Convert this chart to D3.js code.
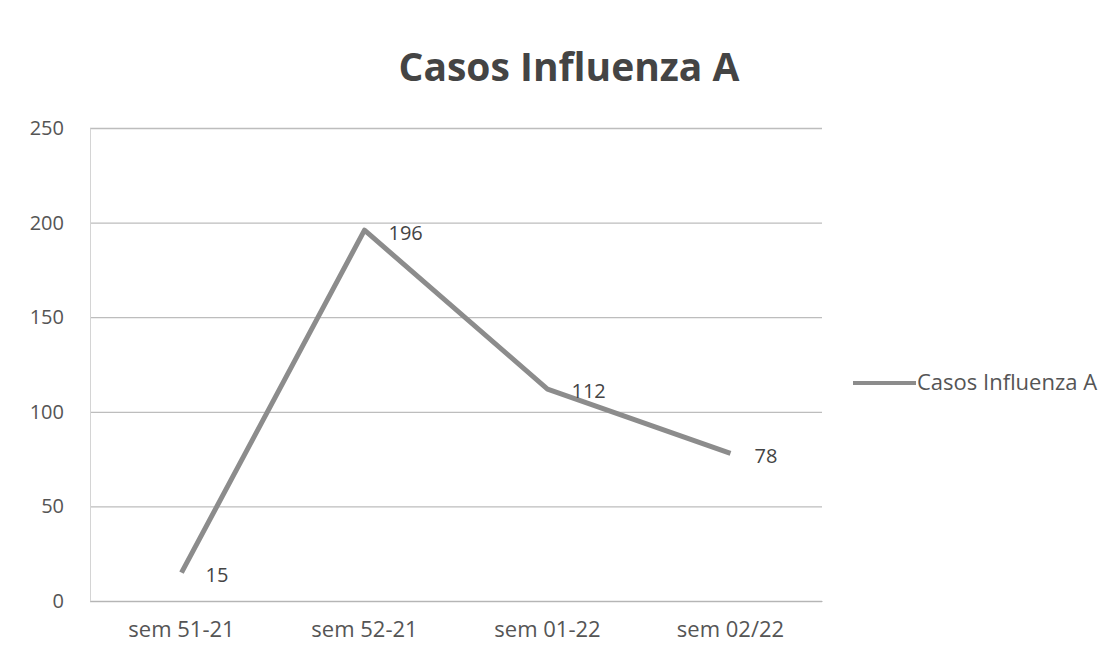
<!DOCTYPE html>
<html>
<head>
<meta charset="utf-8">
<script src="https://cdn.jsdelivr.net/npm/d3@7"></script>
<style>
  html, body { margin: 0; padding: 0; background: #fff; }
  svg { display: block; font-family: "Open Sans", "Noto Sans", sans-serif; }
</style>
</head>
<body>
<div id="chart"></div>
<script>
// ── Data ─────────────────────────────────────────────
const categories = ["sem 51-21", "sem 52-21", "sem 01-22", "sem 02/22"];
const casos = [15, 196, 112, 78];
const yTicks = [0, 50, 100, 150, 200, 250];
const seriesName = "Casos Influenza A";
const title = "Casos Influenza A";

const W = 1119, H = 658;
const margin = { top: 128, right: 297, bottom: 57, left: 90 };
const width = W - margin.left - margin.right;
const height = H - margin.top - margin.bottom;

const svg = d3.select("#chart").append("svg")
  .attr("width", W).attr("height", H);

svg.append("rect").attr("width", W).attr("height", H).attr("fill", "#fff");

// title
svg.append("text")
  .attr("x", 569).attr("y", 81)
  .attr("text-anchor", "middle")
  .attr("font-size", 39).attr("font-weight", "bold")
  .attr("fill", "#444")
  .text(title);

const g = svg.append("g").attr("transform", `translate(${margin.left},${margin.top})`);

const x = d3.scaleBand().domain(categories).range([0, width]);
const y = d3.scaleLinear().domain([0, 250]).range([height, 0]);

// grid
g.append("g")
  .call(d3.axisLeft(y).tickValues(yTicks).tickSize(-width).tickFormat(""))
  .call(s => s.select(".domain").remove())
  .call(s => s.selectAll("line").attr("stroke", "#bdbdbd").attr("stroke-width", 1.3));

// y axis
g.append("g")
  .call(d3.axisLeft(y).tickValues(yTicks).tickSize(0).tickPadding(26))
  .call(s => s.select(".domain").attr("stroke", "#d4d4d4"))
  .call(s => s.selectAll("text").attr("font-size", 20).attr("fill", "#555")
    .attr("font-family", "Open Sans, sans-serif"));

// x axis
g.append("g")
  .attr("transform", `translate(0,${height})`)
  .call(d3.axisBottom(x).tickSize(0).tickPadding(20))
  .call(s => s.select(".domain").attr("stroke", "#b5b5b5"))
  .call(s => s.selectAll("text").attr("font-size", 22).attr("fill", "#555")
    .attr("font-family", "Open Sans, sans-serif"));

// line
const line = d3.line()
  .x((d, i) => x(categories[i]) + x.bandwidth() / 2)
  .y(d => y(d));

g.append("path")
  .datum(casos)
  .attr("fill", "none")
  .attr("stroke", "#8c8c8c")
  .attr("stroke-width", 5)
  .attr("stroke-linejoin", "round")
  .attr("d", line);

// data labels
g.selectAll(".lbl")
  .data(casos).enter().append("text")
  .attr("x", (d, i) => x(categories[i]) + x.bandwidth() / 2 + 24)
  .attr("y", d => y(d) + 4)
  .attr("dominant-baseline", "middle")
  .attr("font-size", 20).attr("fill", "#444")
  .text(d => d);

// legend
const lg = svg.append("g").attr("transform", "translate(853,383)");
lg.append("line").attr("x1", 0).attr("x2", 63).attr("y1", 0).attr("y2", 0)
  .attr("stroke", "#8c8c8c").attr("stroke-width", 4);
lg.append("text").attr("x", 64).attr("y", 1)
  .attr("dominant-baseline", "middle")
  .attr("font-size", 22).attr("fill", "#555")
  .text(seriesName);
</script>
</body>
</html>
